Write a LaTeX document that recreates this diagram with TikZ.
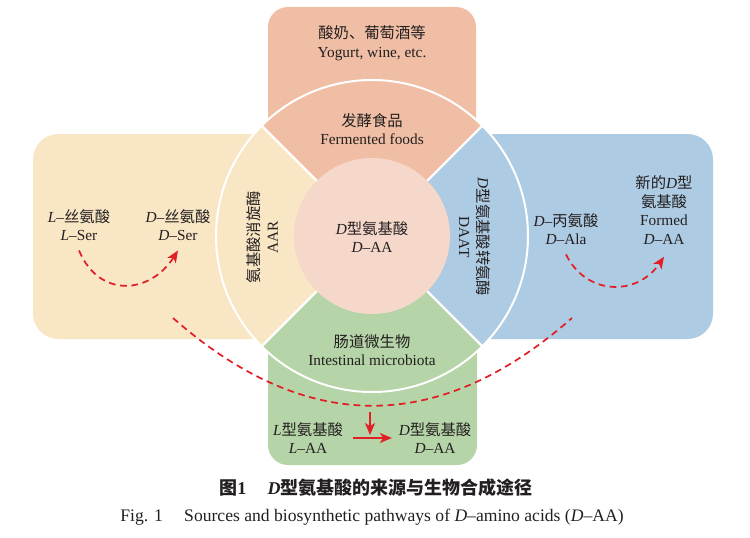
\documentclass[tikz,border=0pt]{standalone}
\usepackage{fontspec}
\setmainfont{Liberation Serif}
\newfontfamily\cjk{Noto Sans CJK SC}
\newcommand{\zh}[1]{{\cjk #1}}
\usetikzlibrary{arrows.meta}
\definecolor{cTop}{RGB}{240,190,165}
\definecolor{cLeft}{RGB}{249,230,196}
\definecolor{cRight}{RGB}{173,203,227}
\definecolor{cBot}{RGB}{181,212,168}
\definecolor{cMid}{RGB}{245,216,202}
\definecolor{cRed}{RGB}{226,30,38}
\definecolor{cText}{RGB}{35,31,32}
\begin{document}
\begin{tikzpicture}[x=0.75pt,y=0.75pt,line join=round,>={Stealth[length=9pt,width=7.5pt,inset=2.5pt]},
	font=\fontsize{11.5}{14}\selectfont,text=cText,
	lab/.style={align=center,inner sep=1pt},
	flow/.style={cRed,line width=1.3pt,dash pattern=on 5pt off 3.5pt},
	turn/.style={cRed,line width=1.4pt,->}]
	\useasboundingbox (0,0) rectangle (750,537);
	%%Điểm
	\path
	(372,301)coordinate(O)
	(173,219)coordinate(c1)(572,219)coordinate(c2)
	(370,125)coordinate(v1)(370,102)coordinate(v2)
	;
	\def\R{156}\def\r{78}
	%%Khung
	\fill[cTop,rounded corners=15pt] (268,301) rectangle (476,530);
	\fill[cLeft,rounded corners=19pt] (33,198) rectangle (372,403);
	\fill[cRight,rounded corners=19pt] (372,198) rectangle (713,403);
	\fill[cBot,rounded corners=15pt] (268,72) rectangle (477,301);
	%%Vòng tròn
	\foreach \c/\a in {cTop/45,cLeft/135,cBot/225,cRight/315}{
		\fill[\c] (O)--++(\a:\R) arc[start angle=\a,delta angle=90,radius=\R]--cycle;
	}
	\draw[white,line width=1.5pt] (O) circle[radius=\R];
	\foreach \a in {45,135,225,315}{
		\draw[white,line width=1.8pt] (O)--++(\a:\R);
	}
	\fill[cMid] (O) circle[radius=\r];
	%%Chữ
	\node[lab] (src) at (372,494) {\zh{酸奶、葡萄酒等}\\Yogurt, wine, etc.};
	\node[lab] (ferm) at (372,408) {\zh{发酵食品}\\Fermented foods};
	\node[lab] (dAA) at (372,300) {\textit{D}\zh{型氨基酸}\\\textit{D}\textendash AA};
	\node[lab,rotate=90] (aar) at (262,300) {\zh{氨基酸消旋酶}\\AAR};
	\node[lab,rotate=-90] (daat) at (475,300) {\textit{D}\zh{型氨基酸转氨酶}\\DAAT};
	\node[lab] (gut) at (372,187) {\zh{肠道微生物}\\Intestinal microbiota};
	\node[lab] (lser) at (79,312) {\textit{L}\textendash\zh{丝氨酸}\\\textit{L}\textendash Ser};
	\node[lab] (dser) at (178,312) {\textit{D}\textendash\zh{丝氨酸}\\\textit{D}\textendash Ser};
	\node[lab] (dala) at (566,308) {\textit{D}\textendash\zh{丙氨酸}\\\textit{D}\textendash Ala};
	\node[lab] (newAA) at (664,327) {\zh{新的}\textit{D}\zh{型}\\\zh{氨基酸}\\Formed\\\textit{D}\textendash AA};
	\node[lab] (lAA) at (308,99) {\textit{L}\zh{型氨基酸}\\\textit{L}\textendash AA};
	\node[lab] (dAA2) at (435,99) {\textit{D}\zh{型氨基酸}\\\textit{D}\textendash AA};
	%%Mũi tên
	\draw[flow,->] ([yshift=-6pt]lser.south) .. controls +(20,-48) and +(-28,-44) .. ([yshift=-6pt]dser.south);
	\draw[flow,->] ([yshift=-6pt]dala.south) .. controls +(20,-41) and +(-27,-40) .. ([yshift=-8pt]newAA.south);
	\draw[flow] (c1) .. controls (306,102) and (439,102) .. (c2);
	\draw[turn] (v1)--(v2);
	\draw[turn,shorten <=6pt,shorten >=4pt] (lAA)--(dAA2);
	%%Chú thích
	\node (cap1) at (376,49) {\fontsize{13.5}{15}\selectfont\bfseries\zh{图}1\hspace{16pt}\textit{D}\zh{型氨基酸的来源与生物合成途径}};
	\node (cap2) at (372,20) {\fontsize{13.2}{15}\selectfont Fig. 1\hspace{16pt}Sources and biosynthetic pathways of \textit{D}\textendash amino acids (\textit{D}\textendash AA)};
\end{tikzpicture}
\end{document}
